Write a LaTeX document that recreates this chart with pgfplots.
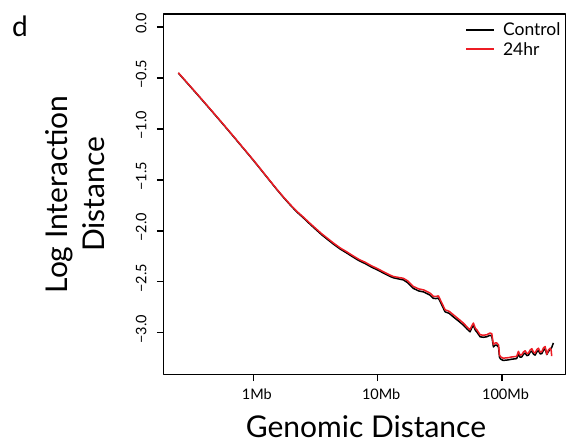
\documentclass[border=0pt]{standalone}
\usepackage{fontspec}
\setmainfont{Lato}
\usepackage{pgfplots}
\pgfplotsset{compat=1.18}
\definecolor{myred}{RGB}{237,28,36}
\newcommand\tl{\fontsize{14.5}{16}\selectfont}
\begin{document}
\begin{tikzpicture}
\path[use as bounding box] (-163.3pt,-68.3pt) rectangle (404.7pt,374.7pt);
\begin{axis}[
  scale only axis,
  width=402pt, height=360.7pt,
  xmin=5.276, xmax=8.509,
  ymin=-3.412, ymax=0.1275,
  clip=false,
  axis line style={line width=1.4pt},
  tick style={line width=1.4pt, black},
  tick align=outside,
  major tick length=6.5pt,
  xtick pos=left, ytick pos=left,
  xtick={6,7,8},
  xticklabels={},
  ytick={-3,-2.5,-2,-1.5,-1,-0.5,0},
  yticklabels={},
  xlabel={Genomic Distance},
  xlabel style={font=\fontsize{30}{36}\selectfont, at={(axis description cs:0.504,-0.1750)}, anchor=base, inner sep=0pt},
  ylabel={Log Interaction\\Distance},
  ylabel style={font=\fontsize{30}{36.7}\selectfont, align=center, at={(axis description cs:-0.219,0.5)}, anchor=center, inner sep=0pt},
  legend style={at={(axis description cs:0.991,0.979)}, anchor=north east, draw=none, fill=none, inner sep=0pt, font=\fontsize{17.5}{20}\selectfont, row sep=3pt, nodes={inner sep=1pt}, /tikz/every odd column/.append style={column sep=7pt}},
  legend cell align=left,
  legend image code/.code={\draw[#1, line width=1.8pt] (0pt,0pt) -- (28pt,0pt);},
  line join=round,
]
\addplot[black, line width=1.5pt] coordinates {
(5.397,-0.452) (5.45,-0.525) (5.5,-0.594) (5.55,-0.663) (5.6,-0.733) (5.65,-0.803)
(5.70,-0.874) (5.75,-0.945) (5.8,-1.017) (5.85,-1.089) (5.9,-1.162) (5.95,-1.235)
(6.0,-1.308) (6.05,-1.384) (6.1,-1.460) (6.15,-1.536) (6.20,-1.611) (6.25,-1.683)
(6.3,-1.751) (6.35,-1.815) (6.40,-1.870) (6.45,-1.928) (6.5,-1.984) (6.55,-2.039)
(6.60,-2.088) (6.65,-2.136) (6.70,-2.180) (6.75,-2.217) (6.80,-2.256) (6.85,-2.293)
(6.90,-2.322) (6.95,-2.356) (7.0,-2.385) (7.05,-2.417) (7.10,-2.448) (7.126,-2.461)
(7.16,-2.470) (7.207,-2.482) (7.24,-2.508) (7.287,-2.565) (7.33,-2.590) (7.37,-2.600)
(7.395,-2.615) (7.42,-2.630) (7.448,-2.663) (7.47,-2.665) (7.488,-2.660) (7.505,-2.700)
(7.529,-2.762) (7.542,-2.795) (7.575,-2.810) (7.609,-2.845) (7.65,-2.885) (7.689,-2.925)
(7.72,-2.965) (7.743,-2.991) (7.756,-2.955) (7.770,-2.928) (7.785,-2.975) (7.797,-2.992)
(7.824,-3.040) (7.85,-3.045) (7.877,-3.040) (7.904,-3.025) (7.918,-3.035) (7.931,-3.140)
(7.945,-3.122) (7.958,-3.123) (7.972,-3.142) (7.98,-3.242) (7.99,-3.260) (8.01,-3.272)
(8.025,-3.270) (8.05,-3.267) (8.078,-3.260) (8.10,-3.257) (8.118,-3.254) (8.132,-3.208)
(8.145,-3.240) (8.159,-3.238) (8.172,-3.212) (8.186,-3.199) (8.20,-3.225) (8.213,-3.220)
(8.226,-3.192) (8.240,-3.180) (8.253,-3.210) (8.266,-3.220) (8.28,-3.188) (8.293,-3.175)
(8.307,-3.208) (8.320,-3.205) (8.333,-3.172) (8.347,-3.158) (8.360,-3.215) (8.373,-3.185)
(8.387,-3.165) (8.40,-3.145) (8.413,-3.100)
};
\addlegendentry{Control}
\addplot[myred, line width=1.5pt] coordinates {
(5.397,-0.449) (5.45,-0.522) (5.5,-0.591) (5.55,-0.660) (5.6,-0.730) (5.65,-0.800)
(5.70,-0.871) (5.75,-0.942) (5.8,-1.014) (5.85,-1.086) (5.9,-1.159) (5.95,-1.232)
(6.0,-1.305) (6.05,-1.381) (6.1,-1.457) (6.15,-1.533) (6.20,-1.608) (6.25,-1.679)
(6.3,-1.746) (6.35,-1.809) (6.40,-1.863) (6.45,-1.920) (6.5,-1.975) (6.55,-2.029)
(6.60,-2.077) (6.65,-2.125) (6.70,-2.169) (6.75,-2.205) (6.80,-2.244) (6.85,-2.281)
(6.90,-2.309) (6.95,-2.343) (7.0,-2.372) (7.05,-2.404) (7.10,-2.435) (7.126,-2.448)
(7.16,-2.456) (7.207,-2.466) (7.24,-2.490) (7.287,-2.546) (7.33,-2.570) (7.37,-2.580)
(7.395,-2.595) (7.42,-2.610) (7.448,-2.643) (7.47,-2.645) (7.488,-2.638) (7.505,-2.680)
(7.529,-2.741) (7.542,-2.775) (7.575,-2.790) (7.609,-2.824) (7.65,-2.865) (7.689,-2.905)
(7.72,-2.945) (7.743,-2.971) (7.756,-2.935) (7.770,-2.905) (7.785,-2.955) (7.797,-2.971)
(7.824,-3.020) (7.85,-3.025) (7.877,-3.020) (7.904,-3.003) (7.918,-3.010) (7.931,-3.118)
(7.945,-3.100) (7.958,-3.101) (7.972,-3.120) (7.98,-3.220) (7.99,-3.238) (8.01,-3.250)
(8.025,-3.248) (8.05,-3.245) (8.078,-3.238) (8.10,-3.235) (8.118,-3.232) (8.132,-3.183)
(8.145,-3.220) (8.159,-3.216) (8.172,-3.190) (8.186,-3.177) (8.20,-3.205) (8.213,-3.200)
(8.226,-3.170) (8.240,-3.157) (8.253,-3.190) (8.266,-3.200) (8.28,-3.165) (8.293,-3.152)
(8.307,-3.190) (8.320,-3.186) (8.333,-3.150) (8.347,-3.135) (8.360,-3.211) (8.373,-3.170)
(8.387,-3.152) (8.395,-3.170) (8.40,-3.230)
};
\addlegendentry{24hr}
\foreach \v/\t in {-3/−3.0,-2.5/−2.5,-2/−2.0,-1.5/−1.5,-1/−1.0,-0.5/−0.5,0/0.0}{
  \edef\temp{\noexpand\node[font=\noexpand\tl, rotate=90, anchor=south, inner sep=0pt] at ([xshift=-16.6pt,yshift=3.5pt]axis cs:5.276,\v) {\t};}
  \temp
}
\foreach \v/\t in {6/1Mb,7/10Mb,8/100Mb}{
  \edef\temp{\noexpand\node[font=\noexpand\tl, anchor=base, inner sep=0pt] at ([xshift=3.5pt,yshift=-25.3pt]axis cs:\v,-3.412) {\t};}
  \temp
}
\end{axis}
\node[anchor=base, font=\fontsize{28}{32}\selectfont, inner sep=0pt] at (-143.3pt,338pt) {d};
\end{tikzpicture}
\end{document}
